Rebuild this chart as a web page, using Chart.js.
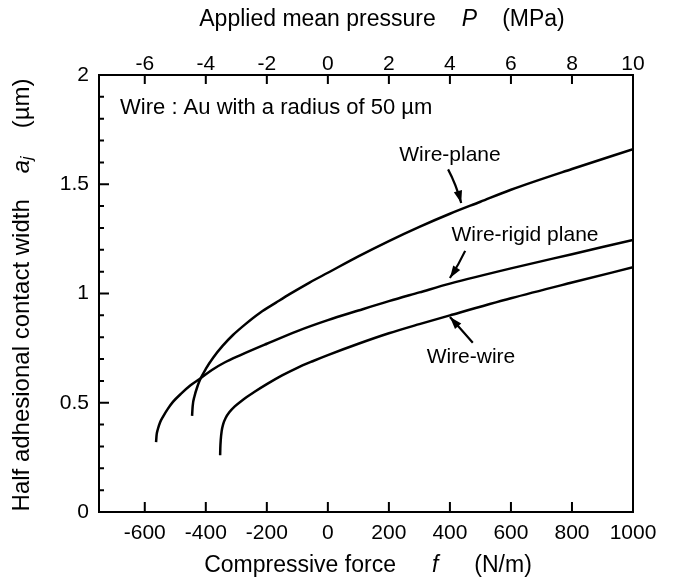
<!DOCTYPE html>
<html>
<head>
<meta charset="utf-8">
<script src="https://cdn.jsdelivr.net/npm/chart.js@4"></script>
<style>
  html, body { margin: 0; padding: 0; background: #fff; }
  #wrap { width: 679px; height: 583px; }
</style>
</head>
<body>
<div id="wrap"><canvas id="chart" width="679" height="583"></canvas></div>
<script>
// compressive force f (N/m) and half contact width a_j (um)
const forceWirePlane = [-445, -443, -437, -428, -419, -400, -376, -345, -311, -270, -222, -170, -124, -60, 0, 100, 200, 300, 400, 500, 600, 800, 1000];
const widthWirePlane = [0.44, 0.485, 0.53, 0.572, 0.605, 0.655, 0.706, 0.76, 0.81, 0.86, 0.912, 0.958, 0.998, 1.05, 1.095, 1.17, 1.24, 1.305, 1.365, 1.42, 1.475, 1.57, 1.66];

const forceWireRigid = [-563, -561, -557, -550, -540, -525, -507, -480, -450, -419, -380, -340, -288, -200, -100, 0, 100, 200, 300, 400, 600, 800, 1000];
const widthWireRigid = [0.32, 0.355, 0.38, 0.41, 0.437, 0.471, 0.505, 0.543, 0.58, 0.61, 0.65, 0.683, 0.717, 0.77, 0.828, 0.878, 0.922, 0.965, 1.005, 1.045, 1.115, 1.18, 1.245];

const forceWireWire = [-353, -352.5, -351, -348, -343, -335, -323, -305, -280, -240, -200, -150, -100, -50, 0, 100, 200, 300, 400, 600, 800, 1000];
const widthWireWire = [0.26, 0.29, 0.33, 0.37, 0.402, 0.43, 0.456, 0.483, 0.512, 0.55, 0.585, 0.625, 0.66, 0.69, 0.718, 0.77, 0.818, 0.86, 0.90, 0.978, 1.05, 1.12];

const forceTicks = [-600, -400, -200, 0, 200, 400, 600, 800, 1000];
const pressureTicks = [-6, -4, -2, 0, 2, 4, 6, 8, 10];
const widthTicks = [0, 0.1, 0.2, 0.3, 0.4, 0.5, 0.6, 0.7, 0.8, 0.9, 1, 1.1, 1.2, 1.3, 1.4, 1.5, 1.6, 1.7, 1.8, 1.9, 2];
const widthLabels = [0, 0.5, 1, 1.5, 2];

const FONT = '"Liberation Sans", Arial, Helvetica, sans-serif';
const INK = '#000';

const toPoints = (xs, ys) => xs.map((x, i) => ({ x: x, y: ys[i] }));

// labels with arrows, given in data coordinates
const callouts = [
    { text: 'Wire-plane', x: 400, y: 1.634, from: [394, 1.568], ctrl: [420, 1.50], to: [437, 1.414] },
    { text: 'Wire-rigid plane', x: 646, y: 1.268, from: [450, 1.195], ctrl: [428, 1.13], to: [400, 1.071] },
    { text: 'Wire-wire', x: 469, y: 0.709, from: [475, 0.775], ctrl: [440, 0.83], to: [400, 0.892] }
];

const setTicks = (values) => (scale) => {
    scale.ticks = values.map(v => ({ value: v }));
};

const framePlugin = {
    id: 'frame',
    afterDraw(chart) {
        const ctx = chart.ctx;
        const area = chart.chartArea;
        const xs = chart.scales.x, xt = chart.scales.xTop, ys = chart.scales.y;
        ctx.save();
        ctx.strokeStyle = INK;
        ctx.lineWidth = 2;
        ctx.strokeRect(area.left, area.top, area.right - area.left, area.bottom - area.top);

        // inward tick marks
        ctx.beginPath();
        xs.ticks.forEach(t => {
            const px = xs.getPixelForValue(t.value);
            if (px > area.right - 2) return;
            ctx.moveTo(px, area.bottom);
            ctx.lineTo(px, area.bottom - 10);
        });
        xt.ticks.forEach(t => {
            const px = xt.getPixelForValue(t.value);
            if (px > area.right - 2) return;
            ctx.moveTo(px, area.top);
            ctx.lineTo(px, area.top + 9);
        });
        ys.ticks.forEach(t => {
            const py = ys.getPixelForValue(t.value);
            const major = Math.abs(t.value * 2 - Math.round(t.value * 2)) < 1e-6;
            ctx.moveTo(area.left, py);
            ctx.lineTo(area.left + (major ? 10 : 5), py);
        });
        ctx.stroke();

        // axis titles with italic symbols
        const drawParts = (parts, cx, cy) => {
            let total = 0;
            parts.forEach(p => { ctx.font = p.font; p.w = ctx.measureText(p.t).width; total += p.w + (p.gap || 0); });
            let x = cx - total / 2;
            ctx.textBaseline = 'middle';
            ctx.textAlign = 'left';
            parts.forEach(p => {
                ctx.font = p.font;
                ctx.fillText(p.t, x, cy + (p.dy || 0));
                x += p.w + (p.gap || 0);
            });
        };
        ctx.fillStyle = INK;
        const reg = '23px ' + FONT;
        const ita = 'italic 23px ' + FONT;
        drawParts([
            { t: 'Compressive force', font: reg, gap: 36 },
            { t: 'f', font: ita, gap: 36 },
            { t: '(N/m)', font: reg }
        ], 368, 566);
        drawParts([
            { t: 'Applied mean pressure', font: reg, gap: 26 },
            { t: 'P', font: ita, gap: 25 },
            { t: '(MPa)', font: reg }
        ], 382, 20);
        ctx.save();
        ctx.translate(22, 295);
        ctx.rotate(-Math.PI / 2);
        const regY = '24px ' + FONT;
        drawParts([
            { t: 'Half adhesional contact width', font: regY, gap: 26 },
            { t: 'a', font: 'italic 24px ' + FONT, gap: 0 },
            { t: 'j', font: 'italic 16px ' + FONT, gap: 28, dy: 6 },
            { t: '(\u00b5m)', font: regY }
        ], 0, 0);
        ctx.restore();

        // note and callouts
        ctx.font = '22px ' + FONT;
        ctx.textAlign = 'left';
        ctx.textBaseline = 'middle';
        ctx.fillText('Wire : Au with a radius of 50 \u00b5m', xs.getPixelForValue(-681), ys.getPixelForValue(1.849));

        callouts.forEach(c => {
            ctx.font = '21px ' + FONT;
            ctx.textAlign = 'center';
            ctx.fillText(c.text, xs.getPixelForValue(c.x), ys.getPixelForValue(c.y));
            const sx = xs.getPixelForValue(c.from[0]), sy = ys.getPixelForValue(c.from[1]);
            const qx = xs.getPixelForValue(c.ctrl[0]), qy = ys.getPixelForValue(c.ctrl[1]);
            const ex = xs.getPixelForValue(c.to[0]), ey = ys.getPixelForValue(c.to[1]);
            ctx.lineWidth = 2.2;
            ctx.beginPath();
            ctx.moveTo(sx, sy);
            ctx.quadraticCurveTo(qx, qy, ex, ey);
            ctx.stroke();
            const ang = Math.atan2(ey - qy, ex - qx);
            ctx.beginPath();
            ctx.moveTo(ex, ey);
            ctx.lineTo(ex - 13 * Math.cos(ang - 0.33), ey - 13 * Math.sin(ang - 0.33));
            ctx.lineTo(ex - 13 * Math.cos(ang + 0.33), ey - 13 * Math.sin(ang + 0.33));
            ctx.closePath();
            ctx.fill();
        });
        ctx.restore();
    }
};

const lineStyle = {
    borderColor: INK,
    borderWidth: 2.5,
    pointRadius: 0,
    fill: false,
    cubicInterpolationMode: 'monotone'
};

const tickFont = { family: FONT, size: 21 };

new Chart(document.getElementById('chart'), {
    type: 'line',
    data: {
        datasets: [
            { label: 'Wire-plane', data: toPoints(forceWirePlane, widthWirePlane), ...lineStyle },
            { label: 'Wire-rigid plane', data: toPoints(forceWireRigid, widthWireRigid), ...lineStyle },
            { label: 'Wire-wire', data: toPoints(forceWireWire, widthWireWire), ...lineStyle }
        ]
    },
    options: {
        responsive: false,
        animation: false,
        layout: { padding: { right: 46 } },
        plugins: {
            legend: { display: false },
            tooltip: { enabled: false }
        },
        scales: {
            x: {
                type: 'linear',
                position: 'bottom',
                min: -750,
                max: 1000,
                afterBuildTicks: setTicks(forceTicks),
                afterFit: (s) => { s.height = 71; },
                grid: { display: false, drawTicks: false },
                border: { display: false },
                ticks: {
                    color: INK,
                    padding: 9,
                    font: tickFont,
                    maxRotation: 0,
                    autoSkip: false,
                    callback: (v) => String(v)
                }
            },
            xTop: {
                type: 'linear',
                position: 'top',
                min: -7.5,
                max: 10,
                afterBuildTicks: setTicks(pressureTicks),
                afterFit: (s) => { s.height = 75; },
                grid: { display: false, drawTicks: false },
                border: { display: false },
                ticks: {
                    color: INK,
                    padding: -2,
                    font: tickFont,
                    maxRotation: 0,
                    autoSkip: false,
                    callback: (v) => String(v)
                }
            },
            y: {
                type: 'linear',
                min: 0,
                max: 2,
                afterBuildTicks: setTicks(widthTicks),
                afterFit: (s) => { s.width = 99; },
                grid: { display: false, drawTicks: false },
                border: { display: false },
                ticks: {
                    color: INK,
                    padding: 10,
                    font: tickFont,
                    autoSkip: false,
                    callback: (v) => widthLabels.some(l => Math.abs(l - v) < 1e-6) ? String(v) : ''
                }
            }
        }
    },
    plugins: [framePlugin]
});
</script>
</body>
</html>
